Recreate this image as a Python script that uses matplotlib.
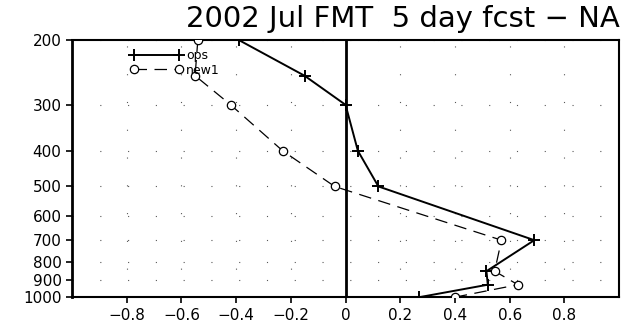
import numpy as np
import matplotlib
matplotlib.use("Agg")
import matplotlib.pyplot as plt
from matplotlib.ticker import FixedLocator, FixedFormatter, NullLocator

# pressure levels (hPa) and bias profiles
levels = [200, 250, 300, 400, 500, 700, 850, 925, 1000]
ops = [-0.39, -0.15, 0.0, 0.045, 0.12, 0.69, 0.515, 0.52, 0.27]
new1 = [-0.54, -0.55, -0.42, -0.23, -0.04, 0.57, 0.545, 0.63, 0.40]

ytick_vals = [200, 300, 400, 500, 600, 700, 800, 900, 1000]
ytick_labels = [str(v) for v in ytick_vals]
xtick_vals = [-0.8, -0.6, -0.4, -0.2, 0, 0.2, 0.4, 0.6, 0.8]
xtick_labels = ["\u22120.8", "\u22120.6", "\u22120.4", "\u22120.2", "0", "0.2", "0.4", "0.6", "0.8"]

plt.rcParams["font.family"] = "DejaVu Sans"
fig = plt.figure(figsize=(6.26, 3.23), dpi=100)
ax = fig.add_axes([0.115, 0.080, 0.874, 0.796])

ax.set_yscale("log")
ax.set_ylim(1000, 200)
ax.set_xlim(-1.0, 1.0)

ax.yaxis.set_major_locator(FixedLocator(ytick_vals))
ax.yaxis.set_major_formatter(FixedFormatter(ytick_labels))
ax.yaxis.set_minor_locator(NullLocator())
ax.xaxis.set_major_locator(FixedLocator(xtick_vals))
ax.xaxis.set_major_formatter(FixedFormatter(xtick_labels))

ax.grid(True, color="0.35", lw=0.8, linestyle=(0, (1, 24)))
ax.axvline(0, color="black", lw=2.0, zorder=3)

ax.plot(ops, levels, color="black", lw=1.4, marker="+", ms=8, mew=1.4,
        label="ops", zorder=4)
ax.plot(new1, levels, color="black", lw=0.9, linestyle=(0, (10, 6)), marker="o",
        ms=6, mfc="white", mec="black", mew=0.9, label="new1", zorder=4)

ax.tick_params(axis="both", labelsize=11, length=4, width=1.2, colors="black")
for s in ax.spines.values():
    s.set_linewidth(1.5)
ax.spines["left"].set_linewidth(2.0)

ax.legend(loc="upper left", bbox_to_anchor=(0.097, 0.983), frameon=False, fontsize=9,
          handlelength=4.2, numpoints=2, handletextpad=0.3, labelspacing=0.1,
          borderaxespad=0.0)

fig.text(0.99, 0.985, "2002 Jul FMT  5 day fcst \u2212 NA", ha="right", va="top",
         fontsize=21)

fig.savefig("out.png", dpi=100)
